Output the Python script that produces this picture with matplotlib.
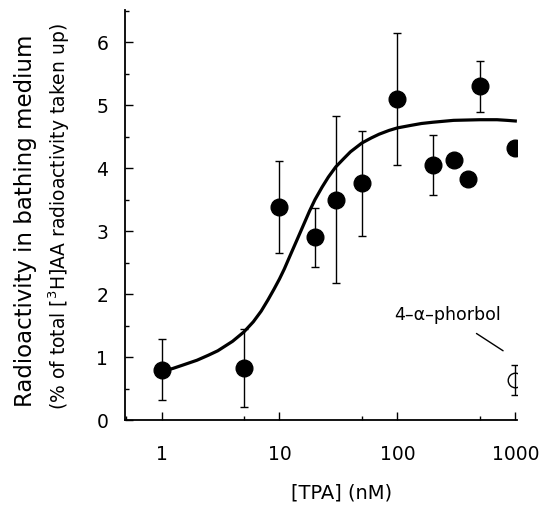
# TPA dose-response: radioactivity released into bathing medium
import numpy as np
import matplotlib.pyplot as plt
from matplotlib.ticker import MultipleLocator, LogLocator, NullFormatter, FixedLocator, FixedFormatter

# Data
tpa_nM = [1, 5, 10, 20, 30, 50, 100, 200, 300, 400, 500, 1000]
release = [0.80, 0.83, 3.39, 2.90, 3.50, 3.76, 5.10, 4.05, 4.13, 3.83, 5.30, 4.32]
release_err = [0.48, 0.62, 0.73, 0.47, 1.33, 0.83, 1.05, 0.47, 0, 0, 0.40, 0]

# 4-alpha-phorbol control
phorbol_nM = [1000]
phorbol = [0.63]
phorbol_err = [0.24]

# fitted curve, sampled from the figure
fit_x = [1, 1.25, 1.5, 2, 2.5, 3, 4, 5, 6, 7, 8, 9, 10, 11, 12.3, 14, 16, 18, 20,
         23, 26, 30, 35, 40, 50, 60, 70, 85, 100, 130, 160, 200, 300, 500, 700, 850, 1000]
fit_y = [0.77, 0.82, 0.87, 0.95, 1.03, 1.10, 1.25, 1.40, 1.56, 1.73, 1.91, 2.08, 2.24,
         2.40, 2.61, 2.85, 3.10, 3.32, 3.50, 3.70, 3.86, 4.02, 4.15, 4.26, 4.40, 4.48,
         4.54, 4.60, 4.64, 4.68, 4.71, 4.73, 4.76, 4.77, 4.77, 4.76, 4.75]

plt.rcParams['font.family'] = 'DejaVu Sans'

fig = plt.figure(figsize=(5.4, 5.16), dpi=100)
ax = fig.add_axes([0.2315, 0.186, 0.726, 0.7955])

ax.plot(fit_x, fit_y, color='black', linewidth=2.3, zorder=2, solid_joinstyle='round')
ax.errorbar(tpa_nM, release, yerr=release_err, fmt='o', color='black', markersize=12,
            elinewidth=1, capsize=3, capthick=1, zorder=3)
ax.errorbar(phorbol_nM, phorbol, yerr=phorbol_err, fmt='o', mfc='none', mec='black',
            ecolor='black', markersize=10.5, mew=1, elinewidth=1, capsize=3, capthick=1, zorder=3)

ax.annotate('4\u2013\u03b1\u2013phorbol', xy=(788, 1.10), xytext=(268, 1.67),
            ha='center', va='center', fontsize=12.5,
            arrowprops=dict(arrowstyle='-', color='black', lw=1, shrinkA=9, shrinkB=0))

ax.set_xscale('log')
ax.set_xlim(0.49, 1035)
ax.set_ylim(0, 6.52)

ax.xaxis.set_major_locator(FixedLocator([1, 10, 100, 1000]))
ax.xaxis.set_major_formatter(FixedFormatter(['1', '10', '100', '1000']))
ax.xaxis.set_minor_locator(LogLocator(base=10, subs=(5,)))
ax.xaxis.set_minor_formatter(NullFormatter())
ax.yaxis.set_major_locator(MultipleLocator(1))
ax.yaxis.set_minor_locator(MultipleLocator(0.5))

ax.spines['top'].set_visible(False)
ax.spines['right'].set_visible(False)
ax.spines['left'].set_linewidth(1.3)
ax.spines['bottom'].set_linewidth(1.3)
ax.tick_params(which='major', direction='in', length=6, width=1, labelsize=13.5)
ax.tick_params(which='minor', direction='in', length=3, width=1)
ax.tick_params(axis='y', which='major', pad=12)
ax.tick_params(axis='x', which='major', pad=18)

ax.set_xlabel('[TPA] (nM)', fontsize=14, labelpad=14)
ax.xaxis.label.set_x(0.553)
fig.text(26 / 540, 0.573, 'Radioactivity in bathing medium', rotation=90,
         ha='center', va='center', fontsize=16.5)
fig.text(59 / 540, 0.58, '(% of total [$^{3}$H]AA radioactivity taken up)', rotation=90,
         ha='center', va='center', fontsize=13.5)

plt.savefig('out.png', dpi=100)
